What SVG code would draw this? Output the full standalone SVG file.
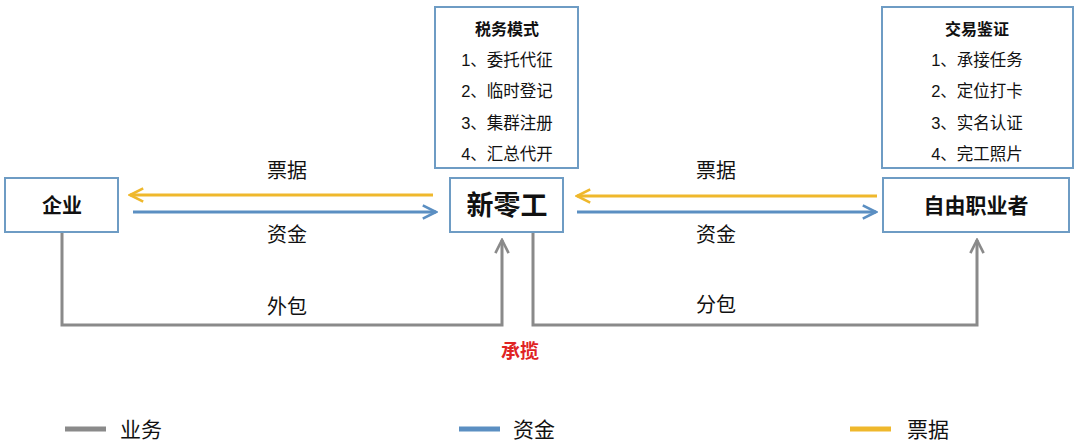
<svg xmlns="http://www.w3.org/2000/svg" width="1080" height="445" viewBox="0 0 1080 445">
<style>
.box{fill:#fff;stroke:#6e9cc4;stroke-width:2}
.t{font-family:"Liberation Sans","Noto Sans CJK SC",sans-serif;text-anchor:middle;fill:#111}
.b{font-weight:bold}
.gray{fill:none;stroke:#8a8a8a;stroke-width:3}
.blue{fill:none;stroke:#5b8fc2;stroke-width:3}
.yel{fill:none;stroke:#efb82c;stroke-width:3}
</style>
<defs>
<marker id="ag" viewBox="0 0 10 10" refX="9" refY="5" markerWidth="5.5" markerHeight="5.5" orient="auto"><path d="M1,1 L9,5 L1,9" fill="none" stroke="#8a8a8a" stroke-width="1.6"/></marker>
<marker id="ab" viewBox="0 0 10 10" refX="9" refY="5" markerWidth="5.5" markerHeight="5.5" orient="auto"><path d="M1,1 L9,5 L1,9" fill="none" stroke="#5b8fc2" stroke-width="1.6"/></marker>
<marker id="ay" viewBox="0 0 10 10" refX="9" refY="5" markerWidth="5.5" markerHeight="5.5" orient="auto"><path d="M1,1 L9,5 L1,9" fill="none" stroke="#efb82c" stroke-width="1.6"/></marker>
</defs>
<rect width="1080" height="445" fill="#fff"/>
<g id="connectors">
<path class="yel" d="M433,195 H130" marker-end="url(#ay)"/>
<path class="blue" d="M133,212 H436" marker-end="url(#ab)"/>
<path class="yel" d="M877,196 H577" marker-end="url(#ay)"/>
<path class="blue" d="M577,212 H876" marker-end="url(#ab)"/>
<path class="gray" d="M62,233 V325 H502 V240" marker-end="url(#ag)"/>
<path class="gray" d="M533,233 V325 H977 V240" marker-end="url(#ag)"/>
<text class="t" x="287" y="178" font-size="20">票据</text>
<text class="t" x="287" y="242" font-size="20">资金</text>
<text class="t" x="716" y="178" font-size="20">票据</text>
<text class="t" x="716" y="242" font-size="20">资金</text>
<text class="t" x="287" y="314" font-size="20">外包</text>
<text class="t" x="716" y="312" font-size="20">分包</text>
<text class="t b" x="520" y="358" font-size="19" style="fill:#e02424">承揽</text>
</g>
<g id="qiye">
<rect class="box" x="5" y="178" width="113" height="54"/>
<text class="t b" x="62" y="213" font-size="20">企业</text>
</g>
<g id="xinlinggong">
<rect class="box" x="450" y="178" width="113" height="54"/>
<text class="t b" x="507" y="215" font-size="27">新零工</text>
</g>
<g id="ziyou">
<rect class="box" x="883" y="178" width="186" height="54"/>
<text class="t b" x="976" y="213" font-size="21">自由职业者</text>
</g>
<g id="shuiwu">
<rect class="box" x="435" y="7" width="143" height="161"/>
<text class="t b" x="507" y="35" font-size="16">税务模式</text>
<text class="t" x="507" y="66" font-size="16.5">1、委托代征</text>
<text class="t" x="507" y="97" font-size="16.5">2、临时登记</text>
<text class="t" x="507" y="129" font-size="16.5">3、集群注册</text>
<text class="t" x="507" y="160" font-size="16.5">4、汇总代开</text>
</g>
<g id="jiaoyi">
<rect class="box" x="882" y="7" width="191" height="161"/>
<text class="t b" x="977" y="35" font-size="16">交易鉴证</text>
<text class="t" x="977" y="66" font-size="16.5">1、承接任务</text>
<text class="t" x="977" y="97" font-size="16.5">2、定位打卡</text>
<text class="t" x="977" y="129" font-size="16.5">3、实名认证</text>
<text class="t" x="977" y="160" font-size="16.5">4、完工照片</text>
</g>
<g id="legend">
<line x1="65" y1="429" x2="106" y2="429" stroke="#8a8a8a" stroke-width="5"/>
<text class="t" x="141" y="437" font-size="21">业务</text>
<line x1="459" y1="429" x2="500" y2="429" stroke="#5b8fc2" stroke-width="5"/>
<text class="t" x="534" y="437" font-size="21">资金</text>
<line x1="850" y1="429" x2="891" y2="429" stroke="#efb82c" stroke-width="5"/>
<text class="t" x="928" y="437" font-size="21">票据</text>
</g>
</svg>
